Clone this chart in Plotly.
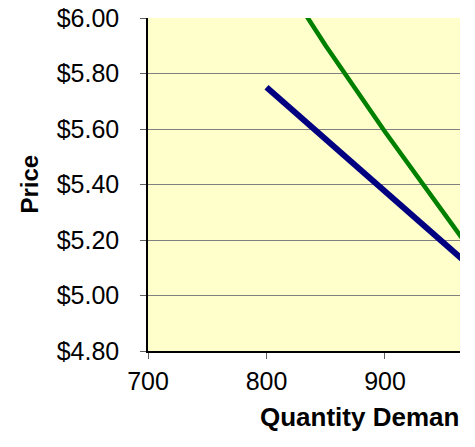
import plotly.graph_objects as go

# Data
quantity_blue = [800, 850, 900, 950, 1000]
price_blue = [5.75, 5.5625, 5.375, 5.1875, 5.00]

quantity_green = [800, 850, 900, 950, 1000]
price_green = [6.23, 5.90, 5.59, 5.29, 5.00]

x_ticks = [700, 800, 900]
y_ticks = [4.8, 5.0, 5.2, 5.4, 5.6, 5.8, 6.0]

FONT = "Liberation Sans, Arial, sans-serif"

fig = go.Figure()
fig.add_trace(go.Scatter(x=quantity_blue, y=price_blue, mode="lines",
                         line=dict(color="#000080", width=6), showlegend=False))
fig.add_trace(go.Scatter(x=quantity_green, y=price_green, mode="lines",
                         line=dict(color="#008000", width=4.5), showlegend=False))

fig.update_layout(
    width=460, height=447,
    margin=dict(l=148, r=0, t=18, b=96),
    paper_bgcolor="white",
    plot_bgcolor="#FFFFCC",
    font=dict(family=FONT, size=26, color="black"),
    xaxis=dict(range=[700, 963.3], tickvals=x_ticks, showgrid=False, zeroline=False,
               showline=True, linecolor="black", linewidth=1.5,
               ticks="outside", ticklen=6, tickcolor="#606060", tickwidth=1,
               ticklabelstandoff=1, tickfont=dict(size=25)),
    yaxis=dict(range=[4.8, 6.0], tickvals=y_ticks, tickformat="$.2f",
               showgrid=True, gridcolor="#808080", gridwidth=1, zeroline=False,
               showline=True, linecolor="black", linewidth=1.5,
               ticks="outside", ticklen=6, tickcolor="#606060", tickwidth=1,
               ticklabelstandoff=16, tickfont=dict(size=25)),
    annotations=[
        dict(text="<b>Price</b>", xref="paper", yref="paper", x=0, y=0.5,
             xshift=-119, textangle=-90, xanchor="center", yanchor="middle",
             showarrow=False, font=dict(size=24, family=FONT)),
        dict(text="<b>Quantity Demanded</b>", xref="paper", yref="paper", x=0, y=0,
             xshift=110, yshift=-66, xanchor="left", yanchor="middle",
             showarrow=False, font=dict(size=26, family=FONT)),
    ],
)

fig.write_html("out.html", config={"displayModeBar": False},
               post_script="document.body.style.margin='0';")
